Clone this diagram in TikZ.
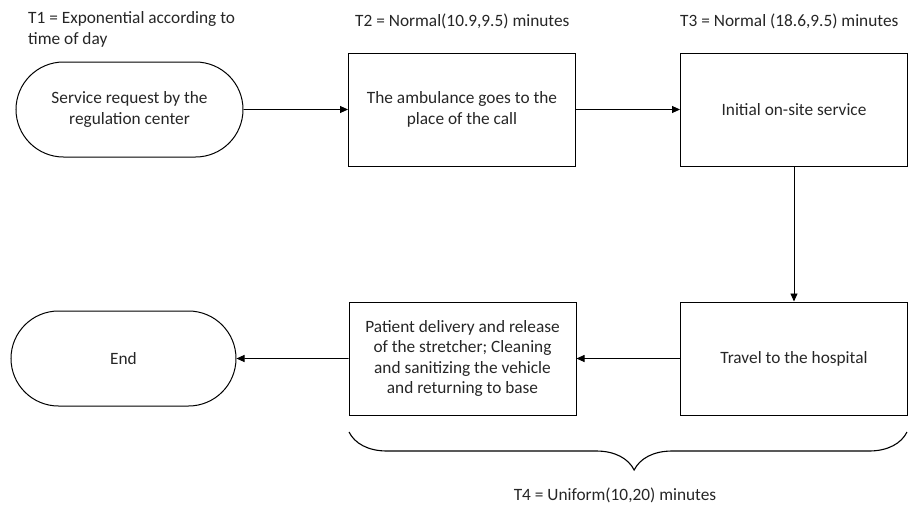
\documentclass[tikz,border=0pt]{standalone}
\usepackage{fontspec}
\setmainfont{Carlito}
\usetikzlibrary{arrows.meta,shapes.misc,decorations.pathreplacing}
\tikzset{
  proc/.style={draw,line width=1pt,minimum width=227pt,minimum height=113pt,align=center,inner sep=0pt},
  term/.style={draw,line width=1pt,rounded rectangle,minimum width=227pt,minimum height=95pt,align=center,inner sep=0pt},
  flow/.style={->,>={Triangle[length=8pt,width=7pt]},line width=0.9pt}
}
\begin{document}
\begin{tikzpicture}[x=1pt,y=-1pt,font=\fontsize{17.3}{20.5}\selectfont,text=black!85]
    \useasboundingbox (0,0) rectangle (913,512);
    \node[term] (start) at (129.5,109.5) {Service request by the\\regulation center};
    \node[proc] (goes) at (462,109.5) {The ambulance goes to the\\place of the call};
    \node[proc] (onsite) at (794,109.5) {Initial on-site service};
    \node[proc] (travel) at (794,358.5) {Travel to the hospital};
    \node[proc] (deliv) at (462.5,358.5) {Patient delivery and release\\of the stretcher; Cleaning\\and sanitizing the vehicle\\and returning to base};
    \node[term,minimum width=225pt] (finish) at (123.5,358.5) {End};
    \draw[flow] (start) -- (goes);
    \draw[flow] (goes) -- (onsite);
    \draw[flow] (onsite) -- (travel);
    \draw[flow] (travel) -- (deliv);
    \draw[flow] (deliv) -- (finish);
    \node[anchor=base west,align=left,inner sep=0pt] (t1) at (28,44) {T1 = Exponential according to\\time of day};
    \node[anchor=base west,inner sep=0pt] (t2) at (355,26) {T2 = Normal(10.9,9.5) minutes};
    \node[anchor=base west,inner sep=0pt] (t3) at (680,26) {T3 = Normal (18.6,9.5) minutes};
    \coordinate (bl) at (349,432);
    \coordinate (br) at (907,432);
    \draw[line width=1.1pt,decorate,decoration={brace,mirror,amplitude=38pt,aspect=0.511}] (bl) -- (br);
    \node[anchor=base,inner sep=0pt] (t4) at (615,500) {T4 = Uniform(10,20) minutes};
  \end{tikzpicture}
\end{document}
